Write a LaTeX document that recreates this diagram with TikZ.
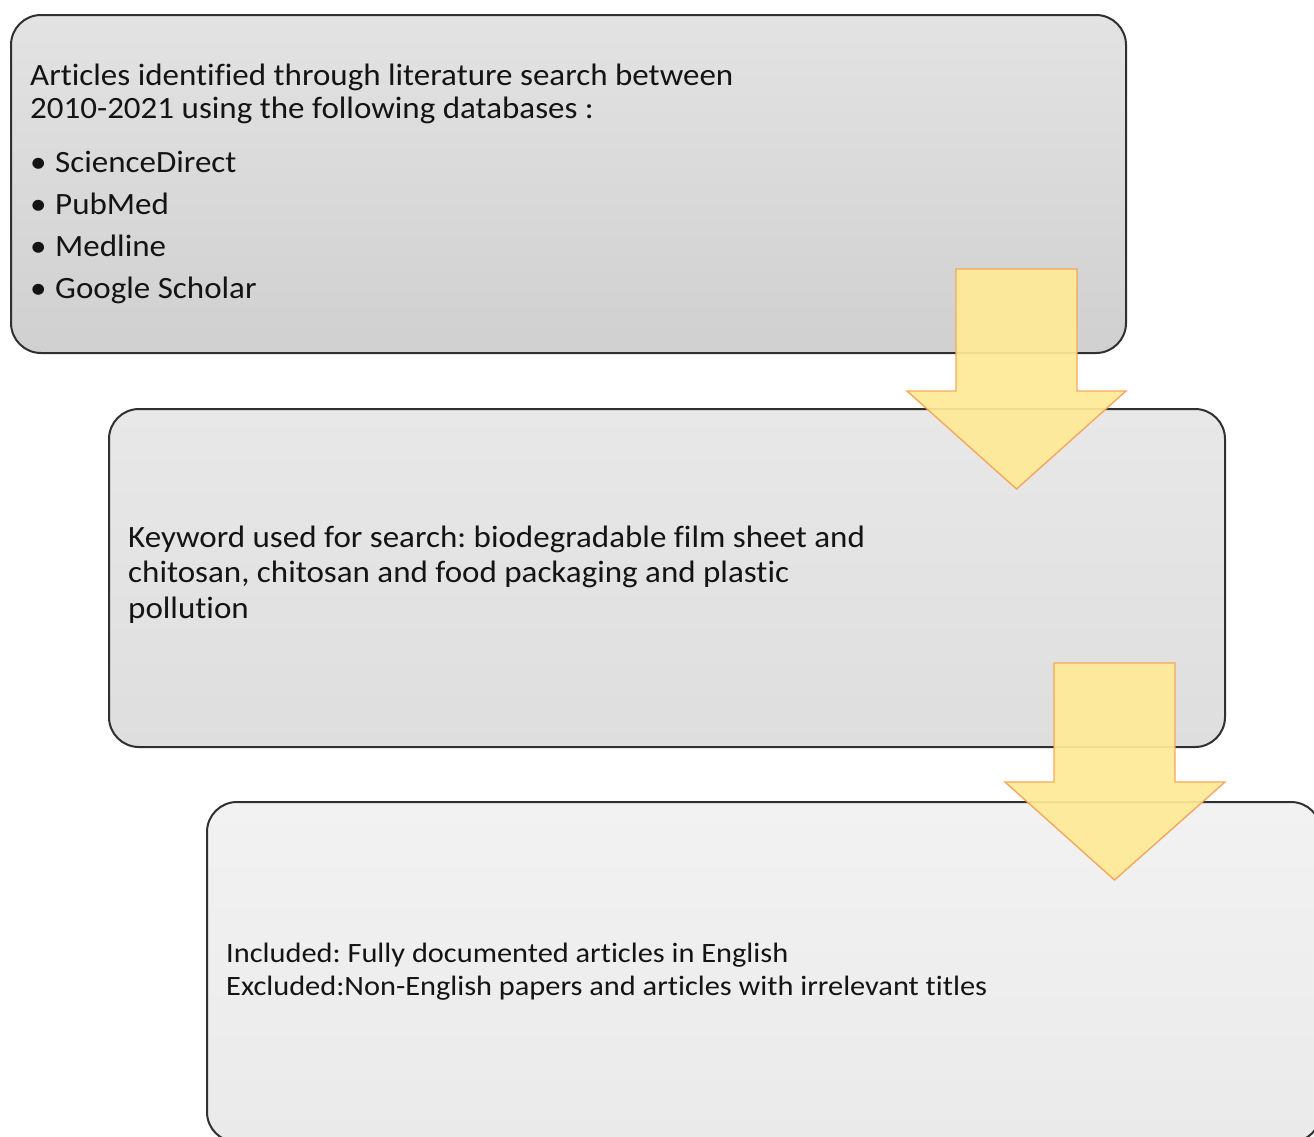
\documentclass[tikz,border=0pt]{standalone}
\usepackage{fontspec}
\setmainfont[Ligatures=NoCommon]{Carlito}
\newfontfamily\boxfont[Ligatures=NoCommon,FakeStretch=1.065]{Carlito}
\newfontfamily\smallboxfont[Ligatures=NoCommon,FakeStretch=1.085]{Carlito}
\definecolor{edge}{HTML}{303030}
\definecolor{arrfill}{RGB}{255,234,150}
\definecolor{arredge}{RGB}{247,160,80}
\definecolor{txt}{HTML}{141414}
\tikzset{
  stagebox/.style={draw=edge, line width=2pt, rounded corners=30pt, rectangle, anchor=north west, inner sep=0pt},
  boxtext/.style={anchor=base west, inner sep=0pt, text=txt, align=left},
  blockarrow/.style={fill=arrfill, fill opacity=0.93, draw=arredge, draw opacity=0.9, line width=1.4pt, line join=miter}
}
\begin{document}
\frenchspacing
\begin{tikzpicture}[x=1pt,y=-1pt]
\clip (0,0) rectangle (1314,1136);
\fill[white] (0,0) rectangle (1314,1136);
% boxes
\node[stagebox, top color={rgb,255:red,227;green,227;blue,227}, bottom color={rgb,255:red,208;green,208;blue,208}, minimum width=1115pt, minimum height=338pt] (b1) at (10,14) {};
\node[stagebox, top color={rgb,255:red,232;green,232;blue,232}, bottom color={rgb,255:red,222;green,222;blue,222}, minimum width=1116pt, minimum height=338pt] (b2) at (108,408) {};
\node[stagebox, top color={rgb,255:red,242;green,242;blue,242}, bottom color={rgb,255:red,234;green,234;blue,234}, minimum width=1114pt, minimum height=340pt] (b3) at (206,801) {};
% texts
\node[boxtext] (t1) at (30,85) {\boxfont\fontsize{31}{33}\selectfont\frenchspacing
\begin{tabular}[t]{@{}l@{}}
Articles identified through literature search between\\
2010-2021 using the following databases :\\[21pt]
\makebox[25pt][l]{•}ScienceDirect\\[9pt]
\makebox[25pt][l]{•}PubMed\\[9pt]
\makebox[25pt][l]{•}Medline\\[9pt]
\makebox[25pt][l]{•}Google Scholar
\end{tabular}};
\node[boxtext] (t2) at (128,547) {\boxfont\fontsize{31}{35.5}\selectfont\frenchspacing
\begin{tabular}[t]{@{}l@{}}
Keyword used for search: biodegradable film sheet and\\
chitosan, chitosan and food packaging and plastic\\
pollution
\end{tabular}};
\node[boxtext] (t3) at (226,962) {\smallboxfont\fontsize{28}{33}\selectfont\frenchspacing
\begin{tabular}[t]{@{}l@{}}
Included: Fully documented articles in English\\
Excluded:Non-English papers and articles with irrelevant titles
\end{tabular}};
% block arrows
\draw[blockarrow] (956,269) -- (1077,269) -- (1077,391) -- (1126,391) -- (1016.5,489) -- (907,391) -- (956,391) -- cycle;
\draw[blockarrow] (1054,663) -- (1175,663) -- (1175,782) -- (1225,782) -- (1114.5,880) -- (1005,782) -- (1054,782) -- cycle;
\end{tikzpicture}
\end{document}
